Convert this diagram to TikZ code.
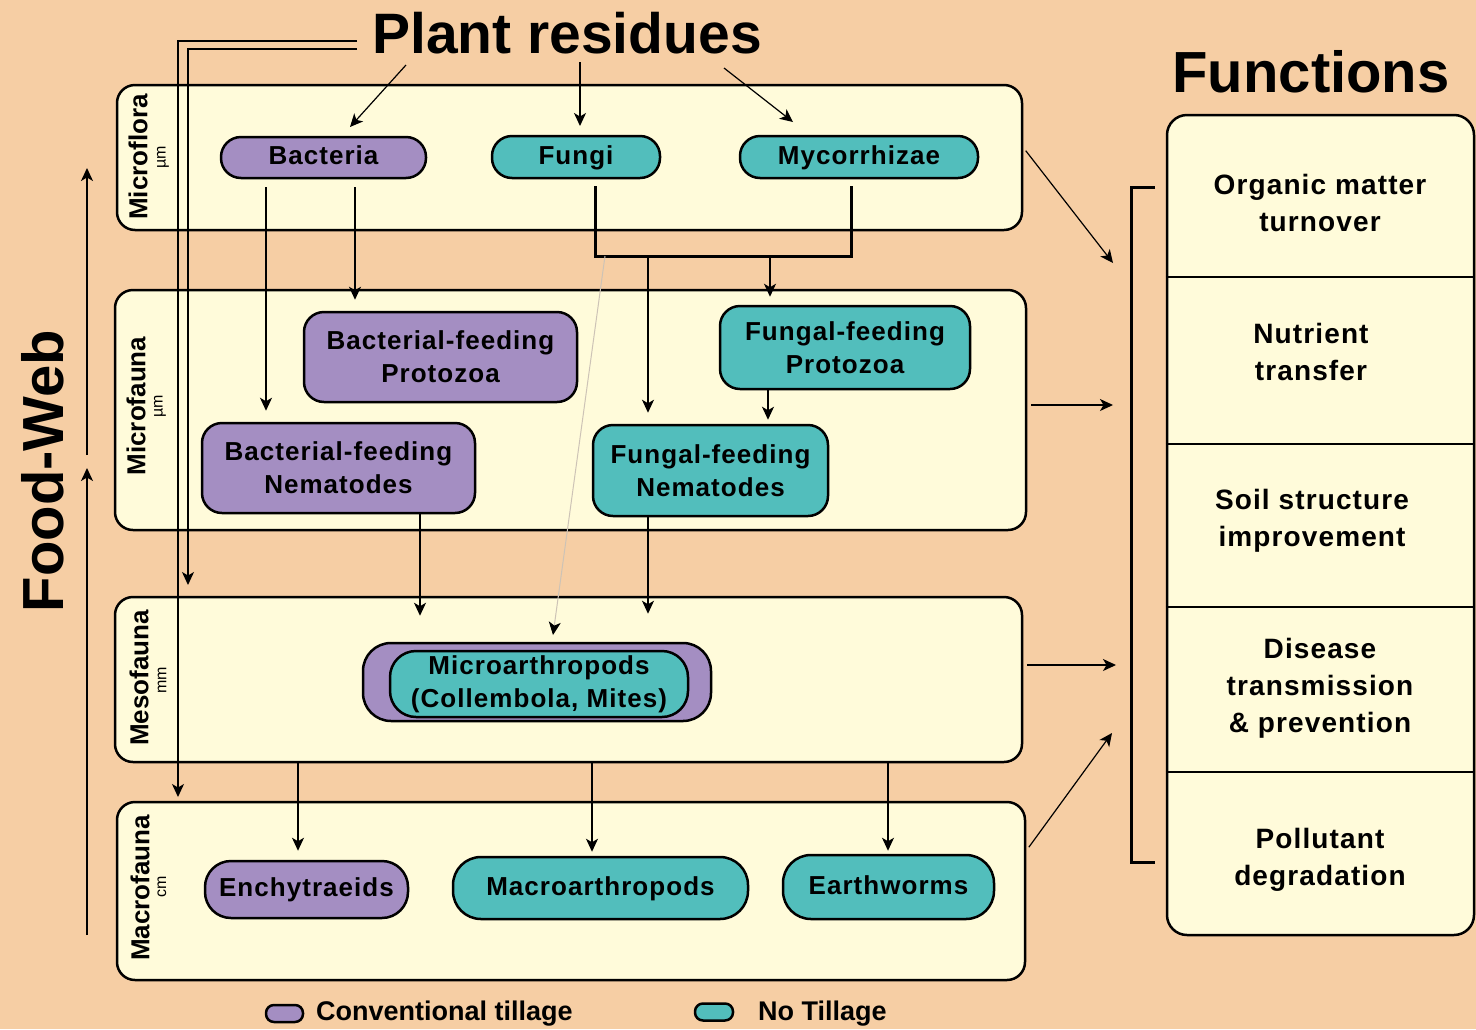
\documentclass[tikz,border=0pt]{standalone}
\usepackage{fontspec}
\setmainfont{Liberation Sans}
\newfontfamily\widefont[LetterSpace=4]{Liberation Sans}
\usetikzlibrary{arrows.meta,calc}
\definecolor{bgc}{RGB}{246,206,164}
\definecolor{panel}{RGB}{255,251,218}
\definecolor{purp}{RGB}{164,142,194}
\definecolor{tealc}{RGB}{82,190,188}
\definecolor{faint}{RGB}{205,195,182}
\begin{document}
\begin{tikzpicture}[x=1pt,y=-1pt,
  band/.style={draw,line width=2.5pt,fill=panel,rounded corners=18pt,inner sep=0pt},
  pill/.style={draw,line width=2.5pt,rounded corners=20pt,inner sep=0pt,align=center,
     font=\widefont\bfseries\fontsize{26}{33}\selectfont},
  one/.style={text height=19pt,text depth=5pt},
  cpurp/.style={pill,fill=purp},
  cteal/.style={pill,fill=tealc},
  bandlab/.style={rotate=90,font=\bfseries\fontsize{26}{30}\selectfont,inner sep=0pt},
  unitlab/.style={rotate=90,font=\fontsize{16}{18}\selectfont,inner sep=0pt},
  conn/.style={line width=1.4pt,-{Stealth[length=13pt,width=12pt,inset=3.5pt]}},
  fat/.style={line width=3pt},
  ftext/.style={align=center,font=\widefont\bfseries\fontsize{28}{37}\selectfont,inner sep=0pt},
  legtext/.style={anchor=west,font=\bfseries\fontsize{27}{30}\selectfont,inner sep=0pt}
]
\useasboundingbox (0,0) rectangle (1476,1029);
\fill[bgc] (0,0) rectangle (1476,1029);

% bands
\node[band,minimum width=905pt,minimum height=145pt] (flora) at (569.5,157.5) {};
\node[band,minimum width=911pt,minimum height=240pt] (fauna) at (570.5,410) {};
\node[band,minimum width=907pt,minimum height=165pt] (meso) at (568.5,679.5) {};
\node[band,minimum width=908pt,minimum height=178pt] (macro) at (571,891) {};

\node[bandlab] (lflora) at (138,157) {Microflora};
\node[unitlab] (uflora) at (163,157) {µm};
\node[bandlab] (lfauna) at (136,406) {Microfauna};
\node[unitlab] (ufauna) at (160,406) {µm};
\node[bandlab] (lmeso) at (139,678) {Mesofauna};
\node[unitlab] (umeso) at (162,680) {mm};
\node[bandlab] (lmacro) at (140,888) {Macrofauna};
\node[unitlab] (umacro) at (162,887) {cm};

% titles
\node[font=\bfseries\fontsize{57}{60}\selectfont,inner sep=0pt] (pr) at (567,33) {Plant residues};
\node[font=\bfseries\fontsize{58}{62}\selectfont,inner sep=0pt] (ftitle) at (1311,72) {Functions};
\node[rotate=90,font=\bfseries\fontsize{58}{62}\selectfont,inner sep=0pt] (fw) at (43,471) {Food-Web};

% organism nodes
\node[cpurp,one,minimum width=205pt,minimum height=41pt] (bact) at (323.5,157.5) {Bacteria};
\node[cteal,one,minimum width=168pt,minimum height=42pt] (fungi) at (576,157) {Fungi};
\node[cteal,one,minimum width=238pt,minimum height=42pt] (myco) at (859,157) {Mycorrhizae};
\node[cpurp,minimum width=273pt,minimum height=90pt] (bfp) at (440.5,357) {Bacterial-feeding\\Protozoa};
\node[cteal,minimum width=250pt,minimum height=83pt] (ffp) at (845,347.5) {Fungal-feeding\\Protozoa};
\node[cpurp,minimum width=273pt,minimum height=90pt] (bfn) at (338.5,468) {Bacterial-feeding\\Nematodes};
\node[cteal,minimum width=235pt,minimum height=91pt] (ffn) at (710.5,470.5) {Fungal-feeding\\Nematodes};
\node[cpurp,minimum width=348pt,minimum height=78pt,rounded corners=28pt] (marO) at (537,682) {};
\node[cteal,minimum width=298pt,minimum height=66pt,rounded corners=26pt] (marI) at (539,684) {Microarthropods\\(Collembola, Mites)};
\node[cpurp,one,minimum width=203pt,minimum height=57pt,rounded corners=26pt] (ench) at (306.5,889.5) {Enchytraeids};
\node[cteal,one,minimum width=295pt,minimum height=62pt,rounded corners=28pt] (macr) at (600.5,888) {Macroarthropods};
\node[cteal,one,minimum width=211pt,minimum height=64pt,rounded corners=28pt] (earth) at (888.5,887) {Earthworms};

% functions box
\node[draw,line width=2.5pt,fill=panel,rounded corners=20pt,minimum width=307pt,minimum height=820pt,inner sep=0pt] (fbox) at (1320.5,525) {};
\foreach \yy in {277,444,607,772}{
  \draw[line width=1.5pt] (fbox.west |- 0,\yy) -- (fbox.east |- 0,\yy);
}
\node[ftext] (f1) at (1320,203) {Organic matter\\turnover};
\node[ftext] (f2) at (1311,352) {Nutrient\\transfer};
\node[ftext] (f3) at (1312,521) {Soil structure\\improvement};
\node[ftext] (f4) at (1320,688) {Disease\\transmission\\\& prevention};
\node[ftext] (f5) at (1320,860) {Pollutant\\degradation};

% coordinates
\coordinate (p1) at (406,65);   \coordinate (t1) at (350,127);
\coordinate (p2) at (580,62);   \coordinate (t2) at (580,126);
\coordinate (p3) at (724,68);   \coordinate (t3) at (793,122);
\coordinate (l1) at (357,41);   \coordinate (e1) at (178,797);
\coordinate (l2) at (357,49);   \coordinate (e2) at (188,585);
\coordinate (jf) at (595,186);  \coordinate (jm) at (851,186);
\coordinate (jl) at (595,256);  \coordinate (jr) at (851,256);
\coordinate (ja) at (648,256);  \coordinate (jb) at (770,256);
\coordinate (jg) at (605,256);  \coordinate (tg) at (553,635);
\coordinate (a1) at (1113,263); \coordinate (a2) at (1113,405);
\coordinate (a3) at (1116,665); \coordinate (a4) at (1112,733);
\coordinate (fwa) at (87,935);  \coordinate (fwb) at (87,468);
\coordinate (fwc) at (87,455);  \coordinate (fwd) at (87,168);
\coordinate (br1) at (1155,187); \coordinate (br2) at (1155,862);

% plant residue arrows
\draw[conn,line width=1.2pt] (p1) -- (t1);
\draw[conn] (p2) -- (t2);
\draw[conn,line width=1.2pt] (p3) -- (t3);
\draw[conn] (l1) -| (e1);
\draw[conn] (l2) -| (e2);

% microflora to microfauna
\draw[conn,shorten <=8pt,shorten >=11pt] (bact.south -| 266,0) -- (bfn.north -| 266,0);
\draw[conn,shorten <=8pt,shorten >=11pt] (bact.south -| 355,0) -- (bfp.north -| 355,0);
\draw[fat] (jf) -- (jl) -- (jr) -- (jm);
\draw[conn,shorten >=11pt] (ja) -- (ffn.north -| ja);
\draw[conn,shorten >=8pt] (jb) -- (ffp.north -| jb);
\draw[conn,shorten >=4pt] (ffp.south -| 768,0) -- (ffn.north -| 768,0);
\draw[line width=1pt,faint,-{Stealth[length=13pt,width=12pt,inset=3.5pt,color=black]}] (jg) -- (tg);

% microfauna to mesofauna
\draw[conn,shorten >=26pt] (bfn.south -| 420,0) -- (marO.north -| 420,0);
\draw[conn,shorten >=28pt] (ffn.south -| 648,0) -- (marO.north -| 648,0);

% mesofauna to macrofauna
\draw[conn,shorten >=9pt] (meso.south -| 298,0) -- (ench.north -| 298,0);
\draw[conn,shorten >=4pt] (meso.south -| 592,0) -- (macr.north -| 592,0);
\draw[conn,shorten >=3pt] (meso.south -| 888,0) -- (earth.north -| 888,0);

% to functions
\draw[conn,line width=1.2pt,shorten <=4pt] ($(flora.east)+(0,-10)$) -- (a1);
\draw[conn,shorten <=4pt] (fauna.east |- a2) -- (a2);
\draw[conn,shorten <=4pt] (meso.east |- a3) -- (a3);
\draw[conn,line width=1.2pt,shorten <=1pt] ($(macro.east)+(2,-43)$) -- (a4);
\draw[line width=3pt] (br1) -- (1131,187) -- (1131,862) -- (br2);

% food web arrows
\draw[conn] (fwa) -- (fwb);
\draw[conn] (fwc) -- (fwd);

% legend
\node[draw,line width=2.5pt,fill=purp,rounded corners=8pt,minimum width=37pt,minimum height=17pt,inner sep=0pt] (lg1) at (284.5,1013.5) {};
\node[legtext] (lt1) at (316,1014) {Conventional tillage};
\node[draw,line width=2.5pt,fill=tealc,rounded corners=8pt,minimum width=38pt,minimum height=17pt,inner sep=0pt] (lg2) at (714,1012) {};
\node[legtext] (lt2) at (758,1014) {No Tillage};
\end{tikzpicture}
\end{document}
